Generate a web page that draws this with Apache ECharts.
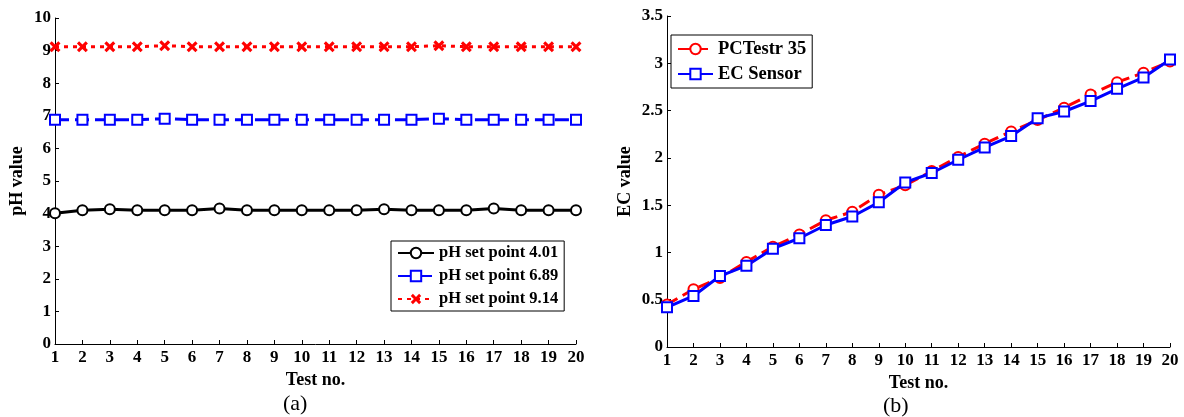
<!DOCTYPE html>
<html>
<head>
<meta charset="utf-8">
<script src="https://cdn.jsdelivr.net/npm/echarts@6/dist/echarts.min.js"></script>
<style>
html, body { margin: 0; padding: 0; background: #fff; }
#chart { width: 1184px; height: 417px; }
</style>
</head>
<body>
<div id="chart"></div>
<script>
// test numbers (x axis, both panels)
const testNo = ['1', '2', '3', '4', '5', '6', '7', '8', '9', '10',
  '11', '12', '13', '14', '15', '16', '17', '18', '19', '20']

// (a) pH readings
const ph401 = [4.01, 4.10, 4.13, 4.10, 4.10, 4.10, 4.16, 4.10, 4.10, 4.10,
  4.10, 4.10, 4.13, 4.10, 4.10, 4.10, 4.16, 4.10, 4.10, 4.10]
const ph689 = [6.88, 6.88, 6.88, 6.88, 6.91, 6.88, 6.88, 6.88, 6.88, 6.88,
  6.88, 6.88, 6.88, 6.88, 6.91, 6.88, 6.88, 6.88, 6.88, 6.88]
const ph914 = [9.12, 9.12, 9.12, 9.12, 9.15, 9.12, 9.12, 9.12, 9.12, 9.12,
  9.12, 9.12, 9.12, 9.12, 9.15, 9.12, 9.12, 9.12, 9.12, 9.12]

// (b) EC readings
const pcTestr = [0.45, 0.61, 0.73, 0.90, 1.06, 1.19, 1.34, 1.43, 1.61, 1.71,
  1.86, 2.01, 2.15, 2.28, 2.40, 2.53, 2.67, 2.80, 2.90, 3.02]
const ecSensor = [0.42, 0.54, 0.75, 0.86, 1.04, 1.15, 1.29, 1.38, 1.53, 1.74,
  1.84, 1.98, 2.11, 2.23, 2.42, 2.49, 2.60, 2.73, 2.85, 3.04]

const font = 'Liberation Serif, Times New Roman, serif'
const xMark = 'path://M0,2L2,0L5,3L8,0L10,2L7,5L10,8L8,10L5,7L2,10L0,8L3,5Z'

const lbl = { color: '#000', fontFamily: font, fontWeight: 'bold', fontSize: 17 }

const xAxisOf = (grid) => ({
  type: 'category',
  gridIndex: grid,
  data: testNo,
  boundaryGap: false,
  name: 'Test no.',
  nameLocation: 'middle',
  nameGap: 24,
  nameTextStyle: { ...lbl, fontSize: 18 },
  axisLine: { lineStyle: { color: '#000', width: 1 } },
  axisTick: { inside: true, length: 4, alignWithLabel: true, lineStyle: { color: '#000' } },
  axisLabel: { ...lbl, margin: 5 },
  splitLine: { show: false },
})

const yAxisOf = (grid, name, max, interval, gap) => ({
  type: 'value',
  gridIndex: grid,
  min: 0,
  max: max,
  interval: interval,
  name: name,
  nameLocation: 'middle',
  nameGap: gap,
  nameTextStyle: { ...lbl, fontSize: 18 },
  axisLine: { show: true, lineStyle: { color: '#000', width: 1 } },
  axisTick: { show: true, inside: true, length: 4, lineStyle: { color: '#000' } },
  axisLabel: { ...lbl, margin: 4 },
  splitLine: { show: false },
})

const chart = echarts.init(document.getElementById('chart'))
chart.setOption({
  animation: false,
  backgroundColor: '#fff',
  grid: [
    { left: 55, top: 18, width: 521, height: 326 },
    { left: 667, top: 16, width: 503, height: 331 },
  ],
  xAxis: [xAxisOf(0), xAxisOf(1)],
  yAxis: [
    yAxisOf(0, 'pH value', 10, 1, 29),
    yAxisOf(1, 'EC value', 3.5, 0.5, 33),
  ],
  legend: [
    {
      data: ['pH set point 4.01', 'pH set point 6.89', 'pH set point 9.14'],
      orient: 'vertical',
      left: 391,
      top: 241,
      padding: [3, 6, 3, 6],
      itemGap: 5,
      itemWidth: 36,
      itemHeight: 13,
      itemTextGap: 4,
      borderColor: '#000',
      borderWidth: 1,
      borderRadius: 0,
      textStyle: { ...lbl, fontSize: 16.5, lineHeight: 18 },
    },
    {
      data: ['PCTestr 35', 'EC Sensor'],
      orient: 'vertical',
      left: 671,
      top: 35,
      padding: [4, 6, 4, 6],
      itemGap: 5,
      itemWidth: 35,
      itemHeight: 13,
      itemTextGap: 3,
      borderColor: '#000',
      borderWidth: 1,
      borderRadius: 0,
      textStyle: { ...lbl, fontSize: 18.5, lineHeight: 20 },
    },
  ],
  graphic: [
    { type: 'text', left: 283, top: 393, style: { text: '(a)', font: '22px ' + font, fill: '#000' } },
    { type: 'text', left: 883, top: 395, style: { text: '(b)', font: '22px ' + font, fill: '#000' } },
  ],
  series: [
    {
      name: 'pH set point 4.01',
      type: 'line',
      xAxisIndex: 0,
      yAxisIndex: 0,
      data: ph401,
      symbol: 'emptyCircle',
      symbolSize: 10,
      lineStyle: { color: '#000', width: 3 },
      itemStyle: { color: '#000', borderColor: '#000', borderWidth: 3 },
    },
    {
      name: 'pH set point 6.89',
      type: 'line',
      xAxisIndex: 0,
      yAxisIndex: 0,
      data: ph689,
      symbol: 'emptyRect',
      symbolSize: 10,
      lineStyle: { color: '#0000ff', width: 3, type: [14, 6] },
      itemStyle: { color: '#0000ff', borderColor: '#0000ff', borderWidth: 3.5 },
    },
    {
      name: 'pH set point 9.14',
      type: 'line',
      xAxisIndex: 0,
      yAxisIndex: 0,
      data: ph914,
      symbol: xMark,
      symbolSize: 11,
      lineStyle: { color: '#ff0000', width: 3, type: [4, 5] },
      itemStyle: { color: '#ff0000' },
    },
    {
      name: 'PCTestr 35',
      type: 'line',
      xAxisIndex: 1,
      yAxisIndex: 1,
      data: pcTestr,
      symbol: 'emptyCircle',
      symbolSize: 10,
      lineStyle: { color: '#ff0000', width: 3, type: [12, 6] },
      itemStyle: { color: '#ff0000', borderColor: '#ff0000', borderWidth: 3 },
    },
    {
      name: 'EC Sensor',
      type: 'line',
      xAxisIndex: 1,
      yAxisIndex: 1,
      data: ecSensor,
      symbol: 'emptyRect',
      symbolSize: 10,
      lineStyle: { color: '#0000ff', width: 3 },
      itemStyle: { color: '#0000ff', borderColor: '#0000ff', borderWidth: 3.5 },
    },
  ],
})
</script>
</body>
</html>
